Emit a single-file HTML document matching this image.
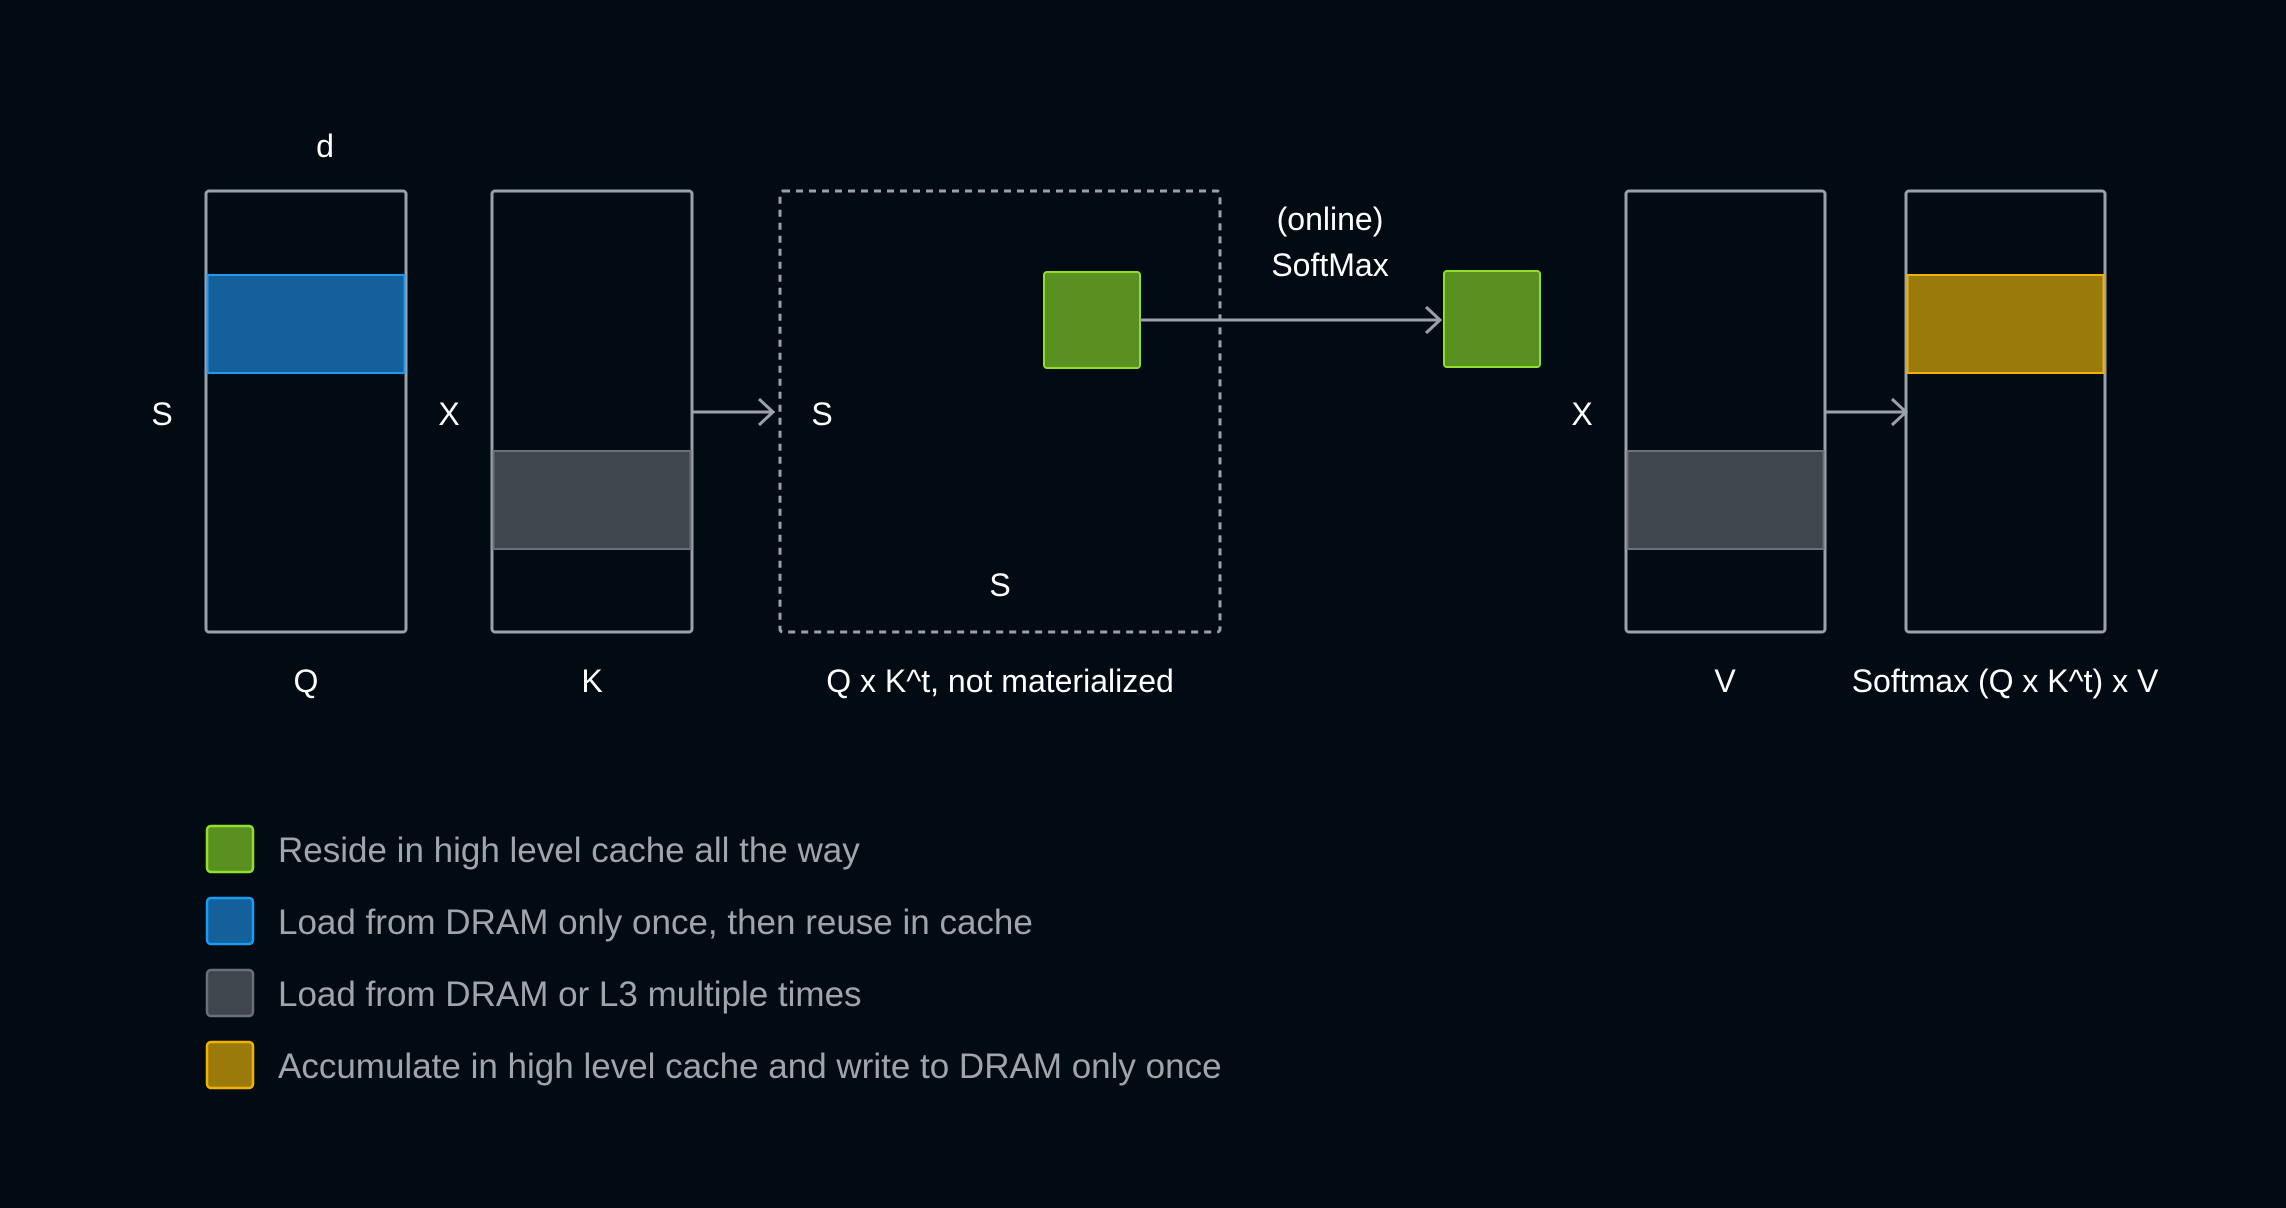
<!DOCTYPE html>
<html><head><meta charset="utf-8"><style>
body{margin:0;background:#020b13;}
svg{display:block;}
text{font-family:"Liberation Sans",sans-serif;}
</style></head><body>
<svg width="2286" height="1208" viewBox="0 0 2286 1208">
<rect width="2286" height="1208" fill="#020b13"/>
<defs><marker id="ah" markerWidth="20" markerHeight="30" refX="18" refY="15" orient="auto" markerUnits="userSpaceOnUse"><path d="M4,2 L18,15 L4,28" fill="none" stroke="#9ca0a8" stroke-width="3"/></marker></defs>
<g fill="#ffffff" font-size="32" text-anchor="middle">
<text x="325" y="157">d</text>
<text x="162" y="425">S</text>
<text x="449" y="425">X</text>
<text x="822" y="425">S</text>
<text x="1000" y="596">S</text>
<text x="1330" y="230">(online)</text>
<text x="1330" y="276">SoftMax</text>
<text x="1582" y="425">X</text>
<text x="306" y="692">Q</text>
<text x="592" y="692">K</text>
<text x="1000" y="692">Q x K^t, not materialized</text>
<text x="1725" y="692">V</text>
<text x="2005" y="692">Softmax (Q x K^t) x V</text>
</g>
<rect x="206" y="191" width="200" height="441" rx="3" fill="none" stroke="#9ca0a8" stroke-width="3"/>
<rect x="207.5" y="275" width="197" height="98" fill="#13609a" stroke="#1d9bf0" stroke-width="2"/>
<rect x="492" y="191" width="200" height="441" rx="3" fill="none" stroke="#9ca0a8" stroke-width="3"/>
<rect x="493.5" y="451" width="197" height="98" fill="#40464d" stroke="#6b7077" stroke-width="2"/>
<line x1="692" y1="412" x2="773" y2="412" stroke="#9ca0a8" stroke-width="3" marker-end="url(#ah)"/>
<rect x="780" y="191" width="440" height="441" rx="3" fill="none" stroke="#9ca0a8" stroke-width="3" stroke-dasharray="7,6"/>
<rect x="1044" y="272" width="96" height="96" rx="3" fill="#5a8f22" stroke="#8fe02a" stroke-width="2"/>
<line x1="1140" y1="320" x2="1440" y2="320" stroke="#9ca0a8" stroke-width="3" marker-end="url(#ah)"/>
<rect x="1444" y="271" width="96" height="96" rx="3" fill="#5a8f22" stroke="#8fe02a" stroke-width="2"/>
<rect x="1626" y="191" width="199" height="441" rx="3" fill="none" stroke="#9ca0a8" stroke-width="3"/>
<rect x="1627.5" y="451" width="196" height="98" fill="#40464d" stroke="#6b7077" stroke-width="2"/>
<line x1="1825" y1="412" x2="1906" y2="412" stroke="#9ca0a8" stroke-width="3" marker-end="url(#ah)"/>
<rect x="1906" y="191" width="199" height="441" rx="3" fill="none" stroke="#9ca0a8" stroke-width="3"/>
<rect x="1907.5" y="275" width="196" height="98" fill="#9a7a0b" stroke="#f0b400" stroke-width="2"/>
<g font-size="35" fill="#a0a4ab">
<rect x="207" y="826" width="46" height="46" rx="4" fill="#5a8f22" stroke="#8fe02a" stroke-width="2.5"/>
<text x="278" y="862">Reside in high level cache all the way</text>
<rect x="207" y="898" width="46" height="46" rx="4" fill="#13609a" stroke="#1d9bf0" stroke-width="2.5"/>
<text x="278" y="934">Load from DRAM only once, then reuse in cache</text>
<rect x="207" y="970" width="46" height="46" rx="4" fill="#40464d" stroke="#6b7077" stroke-width="2.5"/>
<text x="278" y="1006">Load from DRAM or L3 multiple times</text>
<rect x="207" y="1042" width="46" height="46" rx="4" fill="#9a7a0b" stroke="#f0b400" stroke-width="2.5"/>
<text x="278" y="1078">Accumulate in high level cache and write to DRAM only once</text>
</g>
</svg>
</body></html>
